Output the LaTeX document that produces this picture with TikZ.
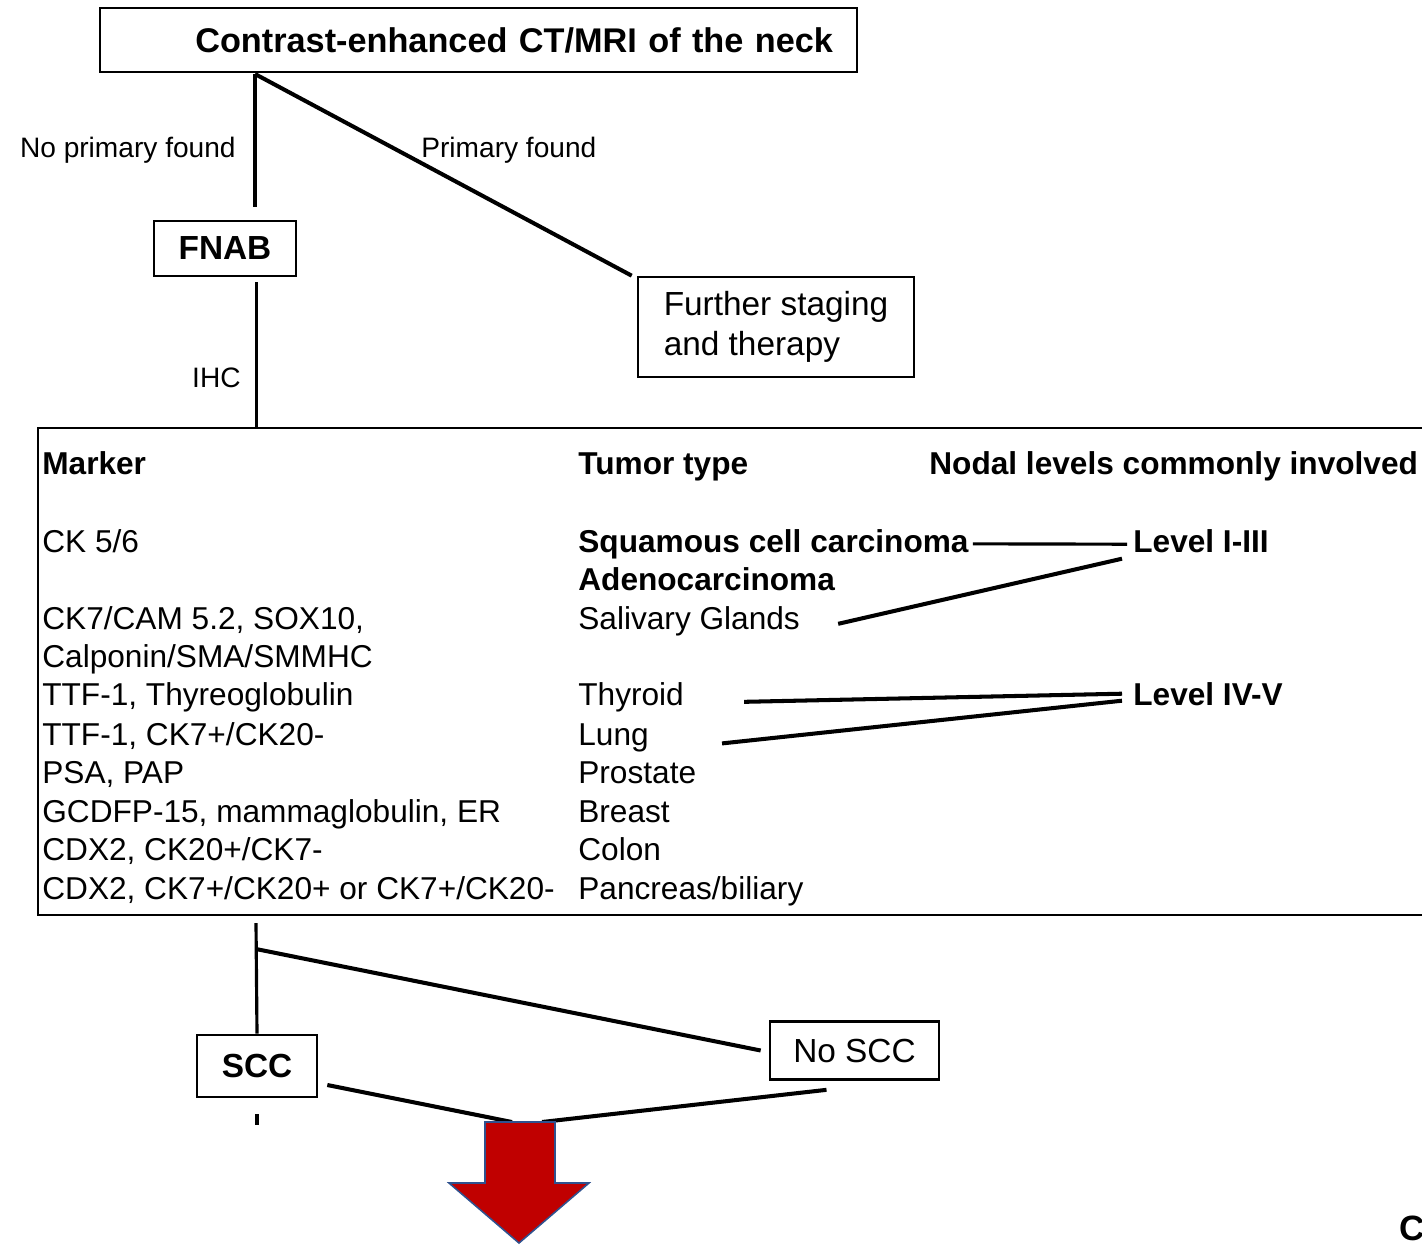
\documentclass[tikz,border=0pt]{standalone}
\usepackage{fontspec}
\setmainfont{Liberation Sans}
\usepackage{tikz}

\newlength\px
\setlength\px{0.02cm}
\definecolor{arrowred}{RGB}{192,0,0}
\definecolor{arrowblue}{RGB}{47,82,143}

\tikzset{
        box/.style={draw, line width=1.5pt, inner sep=0pt, font=\fontsize{19}{22.7}\selectfont},
        bbox/.style={box, font=\fontsize{19}{22.7}\selectfont\bfseries},
        cell/.style={anchor=base west, inner sep=0pt, font=\fontsize{18}{20}\selectfont},
        hcell/.style={cell, font=\fontsize{18}{20}\selectfont\bfseries},
        lbl/.style={inner sep=0pt, font=\fontsize{16}{18}\selectfont},
        link/.style={line width=1.8pt},
        heavylink/.style={line width=2.3pt}
}

\begin{document}
\begin{tikzpicture}[x=0.02cm, y=-0.02cm]
        \useasboundingbox (0,0) rectangle (1422,1244);
        \clip (0,0) rectangle (1422,1244);

        % boxes of the flow chart
        \node[bbox, font=\fontsize{19.5}{22}\selectfont\bfseries, minimum width=757\px, minimum height=64\px, text width=709\px, align=right] (title) at (478.5,40) {Contrast-enhanced CT/MRI of the neck};
        \node[bbox, minimum width=142\px, minimum height=55\px] (fnab) at (225,248.5) {FNAB};
        \node[box, minimum width=276\px, minimum height=100\px, align=left] (further) at (776,327) {Further staging\\and therapy};
        \node[box, minimum width=1402\px, minimum height=487\px] (ihc) at (739,671.5) {};
        \node[bbox, minimum width=120\px, minimum height=62\px] (scc) at (257,1066) {SCC};
        \node[box, minimum width=169\px, minimum height=58\px] (noscc) at (854.5,1050.5) {No SCC};

        \coordinate (sp1) at (255,74);
        \coordinate (sp0) at (256.5,282);
        \coordinate (sp2) at (256,923);
        \coordinate (sp3) at (256,949);
        \coordinate (arrtop) at (520,1122);

        \draw[link] (sp1) -- (sp1 |- fnab.north) [shorten >=13\px];
        \draw[heavylink] (sp1) -- ([xshift=-5\px]further.north west);
        \node[lbl, anchor=base east] (noprim) at (236,157) {No primary found};
        \node[lbl, anchor=base west] (prim) at (421,157) {Primary found};
        \draw[link] (sp0) -- (sp0 |- ihc.north);
        \node[lbl, anchor=base east] (ihclbl) at (241,387) {IHC};

        % table
        \node[hcell] (hmark) at (42,474) {Marker};
        \node[hcell] (htype) at (578,474) {Tumor type};
        \node[hcell] (hnodal) at (929,474) {Nodal levels commonly involved};

        \node[cell] (m1) at (42,552) {CK 5/6};
        \node[cell] (m2) at (42,629) {CK7/CAM 5.2, SOX10,};
        \node[cell] (m3) at (42,667) {Calponin/SMA/SMMHC};
        \node[cell] (m4) at (42,705) {TTF-1, Thyreoglobulin};
        \node[cell] (m5) at (42,745) {TTF-1, CK7+/CK20-};
        \node[cell] (m6) at (42,783) {PSA, PAP};
        \node[cell] (m7) at (42,822) {GCDFP-15, mammaglobulin, ER};
        \node[cell] (m8) at (42,860) {CDX2, CK20+/CK7-};
        \node[cell] (m9) at (42,899) {CDX2, CK7+/CK20+ or CK7+/CK20-};

        \node[hcell] (sqc) at (578,552) {Squamous cell carcinoma};
        \node[hcell] (adeno) at (578,590) {Adenocarcinoma};
        \node[cell] (saliv) at (578,629) {Salivary Glands};
        \node[cell] (thyr) at (578,705) {Thyroid};
        \node[cell] (lung) at (578,745) {Lung};
        \node[cell] (prost) at (578,783) {Prostate};
        \node[cell] (breast) at (578,822) {Breast};
        \node[cell] (colon) at (578,860) {Colon};
        \node[cell] (panc) at (578,899) {Pancreas/biliary};

        \node[hcell] (lev1) at (1133,552) {Level I-III};
        \node[hcell] (lev2) at (1133,705) {Level IV-V};

        \draw[link] ([xshift=4\px]sqc.east) -- ([shift={(-6\px,-3.5\px)}]lev1.west);
        \draw[heavylink] ([shift={(38\px,-3\px)}]saliv.east) -- ([shift={(-11\px,-18\px)}]lev1.west);
        \draw[heavylink] ([shift={(60\px,-5\px)}]thyr.east) -- ([xshift=-11\px]lev2.west);
        \draw[heavylink] ([shift={(73\px,-6\px)}]lung.east) -- ([shift={(-11\px,-7\px)}]lev2.west);

        % lower part
        \draw[link] (sp2) -- (scc.north);
        \draw[heavylink] (sp3) -- ([xshift=-8\px]noscc.west);
        \draw[heavylink] ([shift={(9\px,-19\px)}]scc.east) -- ([xshift=-8\px]arrtop);
        \draw[heavylink] ([shift={(-28\px,-9\px)}]noscc.south) -- ([xshift=22\px]arrtop);
        \draw[link] ([yshift=-16\px]scc.south) -- ([yshift=-27\px]scc.south);

        \filldraw[fill=arrowred, draw=arrowblue, line width=0.9pt] (485,1122) -- (555,1122) -- (555,1183) -- (589,1183) -- (519,1243) -- (449,1183) -- (485,1183) -- cycle;

        \node[anchor=base west, inner sep=0pt, font=\fontsize{20}{24}\selectfont\bfseries] (cont) at (1399,1240) {C};
\end{tikzpicture}
\end{document}
